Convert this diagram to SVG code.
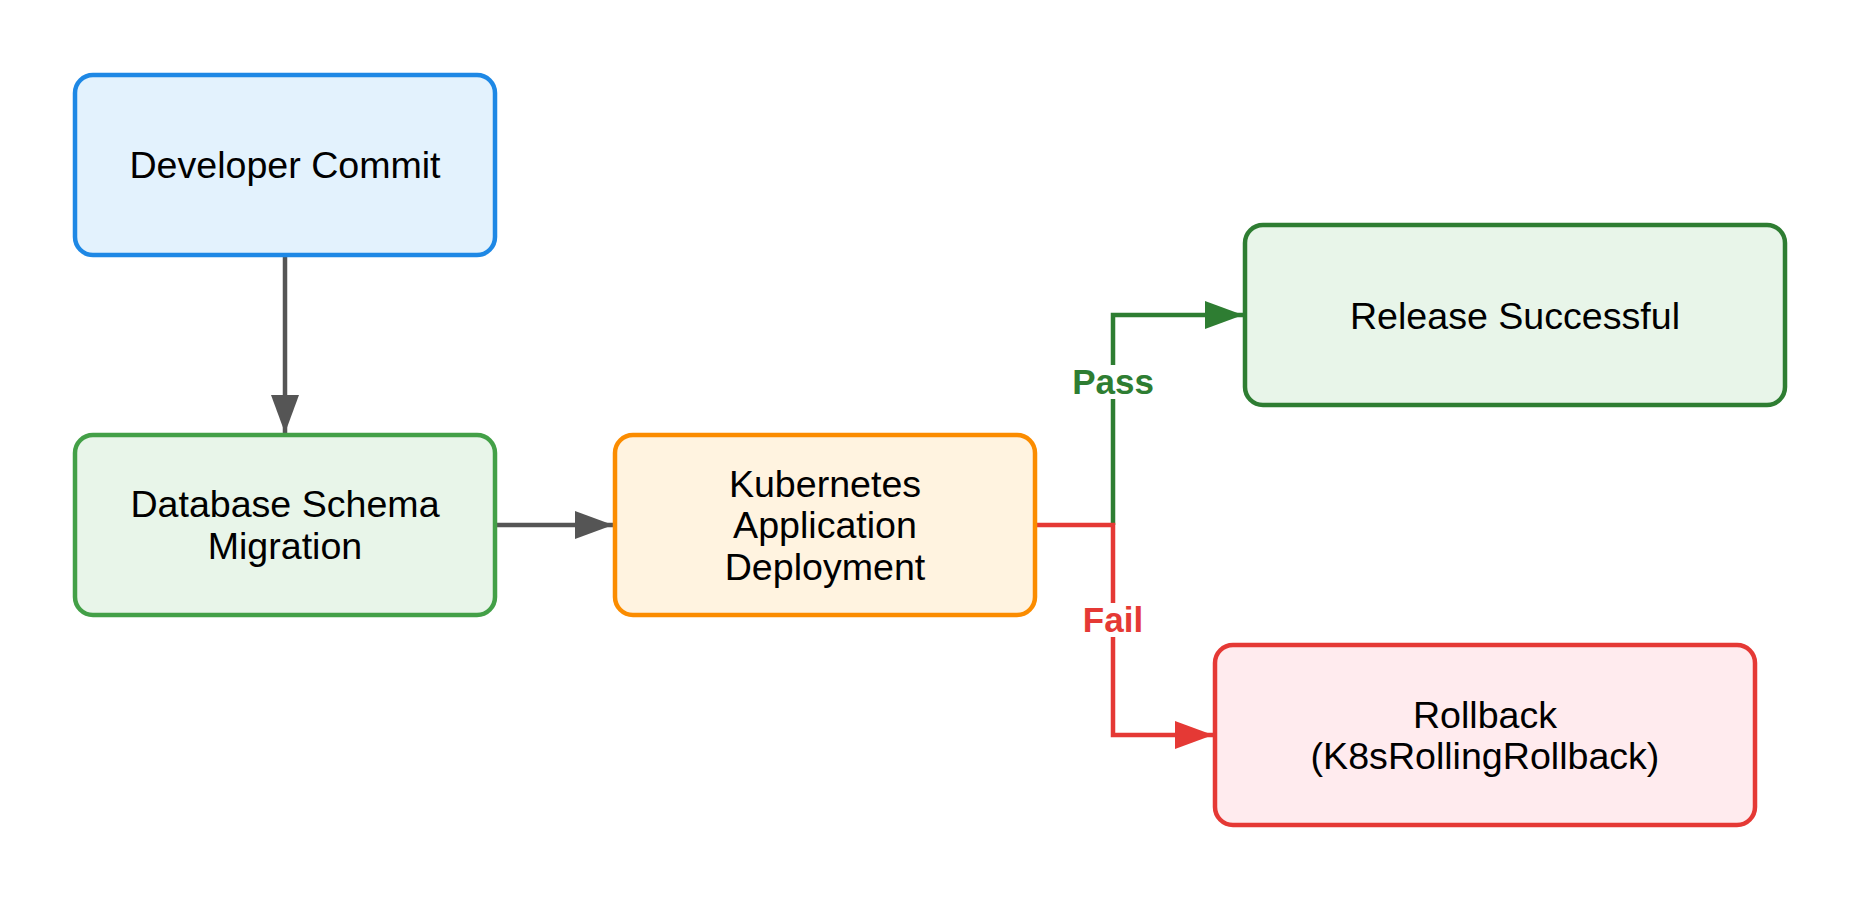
<svg xmlns="http://www.w3.org/2000/svg" width="1860" height="900" viewBox="0 0 1860 900">
<style>
.node{stroke-width:4.5}
.t{font-family:"Liberation Sans",Arial,sans-serif;font-size:37.6px;fill:#000;text-anchor:middle}
.lbl{font-family:"Liberation Sans",Arial,sans-serif;font-size:35px;font-weight:bold;text-anchor:middle}
.c{fill:none;stroke-width:4.5}
</style>
<defs>
<marker id="aG" markerUnits="userSpaceOnUse" markerWidth="38" markerHeight="28" refX="38" refY="14" orient="auto"><path d="M0,0 L38,14 L0,28 Z" fill="#555555"/></marker>
<marker id="aPass" markerUnits="userSpaceOnUse" markerWidth="38" markerHeight="28" refX="38" refY="14" orient="auto"><path d="M0,0 L38,14 L0,28 Z" fill="#2E7D32"/></marker>
<marker id="aFail" markerUnits="userSpaceOnUse" markerWidth="38" markerHeight="28" refX="38" refY="14" orient="auto"><path d="M0,0 L38,14 L0,28 Z" fill="#E53935"/></marker>
</defs>
<rect width="1860" height="900" fill="#ffffff"/>
<g id="connectors">
<path class="c" d="M285,255 L285,433" stroke="#555555" marker-end="url(#aG)"/>
<path class="c" d="M495,525 L613,525" stroke="#555555" marker-end="url(#aG)"/>
<path class="c" d="M1113,525 L1113,315 L1243,315" stroke="#2E7D32" marker-end="url(#aPass)"/>
<path class="c" d="M1035,525 L1113,525 L1113,735 L1213,735" stroke="#E53935" marker-end="url(#aFail)"/>
<g id="label-pass">
<rect x="1090" y="365" width="46" height="34" fill="#ffffff"/>
<text class="lbl" x="1113" y="394" fill="#2E7D32">Pass</text>
</g>
<g id="label-fail">
<rect x="1092" y="603" width="42" height="34" fill="#ffffff"/>
<text class="lbl" x="1113" y="632" fill="#E53935">Fail</text>
</g>
</g>
<g id="developer-commit">
<rect class="node" x="75" y="75" width="420" height="180" rx="18" fill="#E3F2FD" stroke="#1E88E5"/>
<text class="t" x="285" y="178">Developer Commit</text>
</g>
<g id="db-migration">
<rect class="node" x="75" y="435" width="420" height="180" rx="18" fill="#E8F5E9" stroke="#43A047"/>
<text class="t" x="285" y="517">Database Schema</text>
<text class="t" x="285" y="559">Migration</text>
</g>
<g id="k8s-deploy">
<rect class="node" x="615" y="435" width="420" height="180" rx="18" fill="#FFF3E0" stroke="#FB8C00"/>
<text class="t" x="825" y="497">Kubernetes</text>
<text class="t" x="825" y="538">Application</text>
<text class="t" x="825" y="580">Deployment</text>
</g>
<g id="release-successful">
<rect class="node" x="1245" y="225" width="540" height="180" rx="18" fill="#E8F5E9" stroke="#2E7D32"/>
<text class="t" x="1515" y="329">Release Successful</text>
</g>
<g id="rollback">
<rect class="node" x="1215" y="645" width="540" height="180" rx="18" fill="#FFEBEE" stroke="#E53935"/>
<text class="t" x="1485" y="728">Rollback</text>
<text class="t" x="1485" y="769">(K8sRollingRollback)</text>
</g>
</svg>
